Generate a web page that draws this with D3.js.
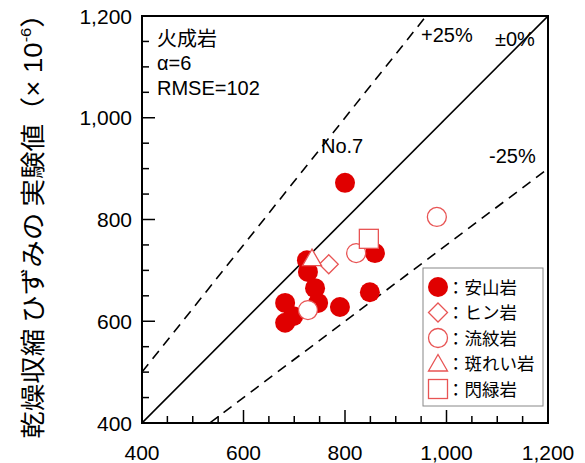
<!DOCTYPE html>
<html>
<head>
<meta charset="utf-8">
<script src="https://cdn.jsdelivr.net/npm/d3@7"></script>
<style>
  body { margin: 0; background: #fff; }
  svg { display: block; }
  text { font-family: "Liberation Sans", Arial, sans-serif; fill: #000; }
  .jp { font-family: "Noto Sans CJK JP", sans-serif; }
</style>
</head>
<body>
<div id="chart"></div>
<script>
const andesite = [
  [800, 872], [859, 734], [725, 720], [727, 697], [741, 665], [747, 636],
  [682, 636], [698, 610], [682, 597], [790, 628], [849, 657]
];
const porphyrite = [[768, 712]];
const rhyolite = [[727, 622], [822, 734], [981, 805]];
const gabbro = [[735, 724]];
const diorite = [[847, 762]];

const legendNames = ["：安山岩", "：ヒン岩", "：流紋岩", "：斑れい岩", "：閃緑岩"];
const legendShapes = ["fcircle", "diamond", "circle", "triangle", "square"];
const refLines = [1.25, 1.0, 0.75];
const tickLabels = [400, 600, 800, 1000, 1200];
const infoLines = ["火成岩", "α=6", "RMSE=102"];

const width = 585, height = 463;
const margin = { top: 16, right: 37, bottom: 40, left: 142 };

const svg = d3.select("#chart").append("svg")
  .attr("width", width).attr("height", height);

const x = d3.scaleLinear().domain([400, 1200]).range([margin.left, width - margin.right]);
const y = d3.scaleLinear().domain([400, 1200]).range([height - margin.bottom, margin.top]);

const red = "#e00000";
const lred = "#e85454";

// reference lines
svg.append("defs").append("clipPath").attr("id", "plot")
  .append("rect")
  .attr("x", x(400)).attr("y", y(1200))
  .attr("width", x(1200) - x(400)).attr("height", y(400) - y(1200));

const lines = svg.append("g").attr("clip-path", "url(#plot)");
refLines.forEach(function (k) {
  lines.append("line")
    .attr("x1", x(400)).attr("y1", y(400 * k))
    .attr("x2", x(1200)).attr("y2", y(1200 * k))
    .attr("stroke", "#000").attr("stroke-width", 1.6)
    .attr("stroke-dasharray", k === 1 ? null : "10,7");
});

// ticks
const minor = d3.range(400, 1201, 50);
const axisG = svg.append("g");
minor.forEach(function (v) {
  const len = v % 200 === 0 ? 13 : 7;
  axisG.append("line")
    .attr("x1", x(v)).attr("x2", x(v))
    .attr("y1", y(400)).attr("y2", y(400) - len)
    .attr("stroke", "#000").attr("stroke-width", 1.5);
  axisG.append("line")
    .attr("y1", y(v)).attr("y2", y(v))
    .attr("x1", x(400)).attr("x2", x(400) + len)
    .attr("stroke", "#000").attr("stroke-width", 1.5);
});

axisG.append("rect")
  .attr("x", x(400)).attr("y", y(1200))
  .attr("width", x(1200) - x(400)).attr("height", y(400) - y(1200))
  .attr("fill", "none").attr("stroke", "#000").attr("stroke-width", 2);

const fmt = d3.format(",");
tickLabels.forEach(function (v) {
  svg.append("text")
    .attr("x", x(v)).attr("y", 460)
    .attr("text-anchor", "middle").attr("font-size", 21)
    .text(fmt(v));
  svg.append("text")
    .attr("x", 132).attr("y", y(v) + 7.5)
    .attr("text-anchor", "end").attr("font-size", 21)
    .text(fmt(v));
});

// y title
const yt = svg.append("text")
  .attr("class", "jp")
  .attr("transform", "translate(42," + ((height - margin.bottom + margin.top) / 2) + ") rotate(-90) scale(1.1,1)")
  .attr("text-anchor", "middle")
  .attr("font-size", 25);
yt.append("tspan").text("乾燥収縮 ひずみの 実験値（");
yt.append("tspan").attr("font-family", "Liberation Sans").text("× 10");
yt.append("tspan").attr("font-family", "Liberation Sans").attr("font-size", 15).attr("dy", -11).text("-6");
yt.append("tspan").attr("dy", 11).text("）");

// annotations
infoLines.forEach(function (t, i) {
  svg.append("text")
    .attr("class", i === 0 ? "jp" : null)
    .attr("x", 157).attr("y", [46, 70, 95][i])
    .attr("font-size", 20)
    .text(t);
});
svg.append("text").attr("x", 421).attr("y", 42).attr("font-size", 20).text("+25%");
svg.append("text").attr("x", 495).attr("y", 46).attr("font-size", 20).text("±0%");
svg.append("text").attr("x", 489).attr("y", 163).attr("font-size", 20).text("-25%");
svg.append("text").attr("x", 321).attr("y", 153).attr("font-size", 20).text("No.7");

// markers
function drawShape(g, shape, cx, cy) {
  if (shape === "fcircle") {
    g.append("circle").attr("cx", cx).attr("cy", cy).attr("r", 10).attr("fill", red);
  } else if (shape === "circle") {
    g.append("circle").attr("cx", cx).attr("cy", cy).attr("r", 9.5)
      .attr("fill", "#fff").attr("stroke", lred).attr("stroke-width", 1.3);
  } else if (shape === "diamond") {
    g.append("path")
      .attr("d", `M${cx},${cy - 9.5}L${cx + 9.5},${cy}L${cx},${cy + 9.5}L${cx - 9.5},${cy}Z`)
      .attr("fill", "#fff").attr("stroke", lred).attr("stroke-width", 1.3);
  } else if (shape === "triangle") {
    g.append("path")
      .attr("d", `M${cx},${cy - 9}L${cx + 9.5},${cy + 7.5}L${cx - 9.5},${cy + 7.5}Z`)
      .attr("fill", "#fff").attr("stroke", lred).attr("stroke-width", 1.3);
  } else if (shape === "square") {
    g.append("rect").attr("x", cx - 9.5).attr("y", cy - 9.5).attr("width", 19).attr("height", 19)
      .attr("fill", "#fff").attr("stroke", lred).attr("stroke-width", 1.3);
  }
}

const pts = svg.append("g");
andesite.forEach(d => drawShape(pts, "fcircle", x(d[0]), y(d[1])));
rhyolite.forEach(d => drawShape(pts, "circle", x(d[0]), y(d[1])));
porphyrite.forEach(d => drawShape(pts, "diamond", x(d[0]), y(d[1])));
gabbro.forEach(d => drawShape(pts, "triangle", x(d[0]), y(d[1])));
diorite.forEach(d => drawShape(pts, "square", x(d[0]), y(d[1])));

// legend
const lg = svg.append("g");
lg.append("rect").attr("x", 423).attr("y", 268).attr("width", 120).attr("height", 138)
  .attr("fill", "#fff").attr("stroke", "#888").attr("stroke-width", 1);
legendNames.forEach(function (name, i) {
  const cy = 287 + i * 25.5;
  drawShape(lg, legendShapes[i], 438, cy);
  lg.append("text").attr("class", "jp")
    .attr("x", 447).attr("y", cy + 6.5)
    .attr("font-size", 17.5)
    .text(name);
});
</script>
</body>
</html>
